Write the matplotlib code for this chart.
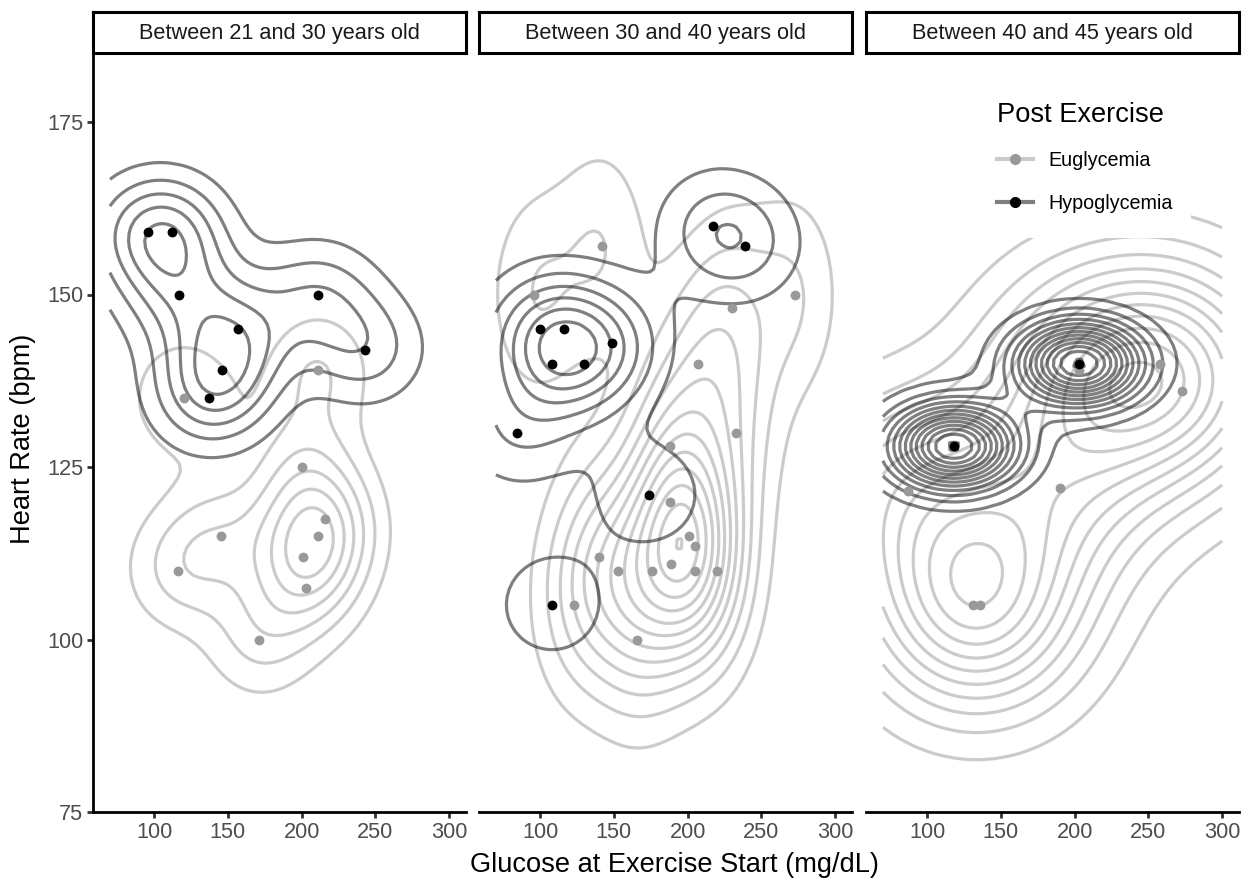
import numpy as np
import matplotlib.pyplot as plt
from matplotlib.lines import Line2D
from matplotlib.patches import Rectangle

plt.rcParams['font.family'] = ['Liberation Sans', 'DejaVu Sans']

# facet labels
panels = ['Between 21 and 30 years old', 'Between 30 and 40 years old', 'Between 40 and 45 years old']
groups = ['Euglycemia', 'Hypoglycemia']

# glucose at exercise start (x) and heart rate (y)
eu_x = [
    [120, 211, 200, 216, 211, 201, 203, 145, 116, 171],
    [142, 96, 230, 273, 207, 233, 188, 188, 201, 205, 140, 153, 176, 189, 205, 220, 123, 166],
    [203, 258, 273, 190, 87, 131, 136],
]
eu_y = [
    [135, 139, 125, 117.5, 115, 112, 107.5, 115, 110, 100],
    [157, 150, 148, 150, 140, 130, 128, 120, 115, 113.5, 112, 110, 110, 111, 110, 110, 105, 100],
    [139, 140, 136, 122, 121.5, 105, 105],
]
hypo_x = [
    [96, 112, 117, 157, 146, 137, 211, 243],
    [100, 116, 149, 108, 130, 84, 217, 239, 174, 108],
    [118, 203],
]
hypo_y = [
    [159, 159, 150, 145, 139, 135, 150, 142],
    [145, 145, 143, 140, 140, 130, 160, 157, 121, 105],
    [128, 140],
]

colors = {'Euglycemia': '#999999', 'Hypoglycemia': '#000000'}

# density grid spans the x/y scale limits
xlim_grid = (70, 300)
ylim_grid = (80, 180)


def bandwidth_nrd(v):
    v = np.asarray(v, float)
    q1, q3 = np.percentile(v, [25, 75])
    return 4 * 1.06 * min(np.std(v, ddof=1), (q3 - q1) / 1.34) * len(v) ** (-0.2)


def kde2d(x, y, n=100):
    x = np.asarray(x, float)
    y = np.asarray(y, float)
    hx = bandwidth_nrd(x) / 4
    hy = bandwidth_nrd(y) / 4
    gx = np.linspace(*xlim_grid, n)
    gy = np.linspace(*ylim_grid, n)
    kx = np.exp(-0.5 * ((gx[:, None] - x[None, :]) / hx) ** 2) / np.sqrt(2 * np.pi)
    ky = np.exp(-0.5 * ((gy[:, None] - y[None, :]) / hy) ** 2) / np.sqrt(2 * np.pi)
    z = ky @ kx.T / (len(x) * hx * hy)
    return gx, gy, z


def pretty(lo, hi, n=10):
    # same rule as R's pretty()
    cell = (hi - lo) / n
    U = 10 ** np.floor(np.log10(cell))
    unit = U
    if 2 * U - cell < 1.5 * (cell - unit):
        unit = 2 * U
        if 5 * U - cell < 2.75 * (cell - unit):
            unit = 5 * U
            if 10 * U - cell < 1.5 * (cell - unit):
                unit = 10 * U
    ns = np.floor(lo / unit + 1e-7)
    nu = np.ceil(hi / unit - 1e-7)
    return np.arange(ns, nu + 1) * unit


fig = plt.figure(figsize=(12.43, 8.81), dpi=100)
W, H = 1243, 881
lefts = [93, 479, 866]
pw = 373
top, bottom = 53, 812

for i, name in enumerate(panels):
    ax = fig.add_axes([lefts[i] / W, 1 - bottom / H, pw / W, (bottom - top) / H])
    for g, xs, ys in [('Euglycemia', eu_x[i], eu_y[i]), ('Hypoglycemia', hypo_x[i], hypo_y[i])]:
        gx, gy, z = kde2d(xs, ys)
        levels = pretty(z.min(), z.max())
        levels = levels[(levels > z.min()) & (levels < z.max())]
        ax.contour(gx, gy, z, levels=levels, colors=colors[g], alpha=0.5,
                   linewidths=2.3, zorder=2)
    ax.scatter(eu_x[i], eu_y[i], s=50, color=colors['Euglycemia'], zorder=4, linewidths=0)
    ax.scatter(hypo_x[i], hypo_y[i], s=50, color=colors['Hypoglycemia'], zorder=5, linewidths=0)

    ax.set_xlim(58.5, 311.5)
    ax.set_ylim(75, 185)
    ax.set_xticks([100, 150, 200, 250, 300])
    ax.set_yticks([75, 100, 125, 150, 175])
    for s in ['top', 'right']:
        ax.spines[s].set_visible(False)
    ax.spines['bottom'].set_linewidth(2)
    ax.spines['left'].set_linewidth(2)
    ax.tick_params(axis='both', length=4, width=2, color='#333333', labelcolor='#4d4d4d',
                   labelsize=15.7, pad=3)
    if i > 0:
        ax.spines['left'].set_visible(False)
        ax.tick_params(axis='y', left=False, labelleft=False)

    # facet strip
    sax = fig.add_axes([lefts[i] / W, 1 - 53 / H, pw / W, 41 / H])
    sax.set_xticks([])
    sax.set_yticks([])
    for s in sax.spines.values():
        s.set_linewidth(2.2)
    sax.text(0.5, 0.48, name, ha='center', va='center', fontsize=15.7, color='#1a1a1a',
             transform=sax.transAxes)

    if i == 2:
        # legend background
        ax.add_patch(Rectangle((0, 0.756), 0.872, 0.244, transform=ax.transAxes,
                               facecolor='white', edgecolor='none', zorder=6))
        handles = [
            (Line2D([], [], color=colors['Euglycemia'], alpha=0.5, lw=3),
             Line2D([], [], color=colors['Euglycemia'], marker='o', ls='none', ms=7)),
            (Line2D([], [], color=colors['Hypoglycemia'], alpha=0.5, lw=3),
             Line2D([], [], color=colors['Hypoglycemia'], marker='o', ls='none', ms=7)),
        ]
        leg = ax.legend(handles, groups, title='Post Exercise', loc='upper left',
                        bbox_to_anchor=(0.35, 0.936), frameon=False, fontsize=14.2,
                        title_fontsize=19.6, alignment='left', handlelength=1.85,
                        labelspacing=1.2, handletextpad=0.8, borderpad=0, borderaxespad=0)
        leg.set_zorder(7)

fig.text(674 / W, 1 - 865 / H, 'Glucose at Exercise Start (mg/dL)', ha='center', va='center',
         fontsize=19.6)
fig.text(23 / W, 1 - 439 / H, 'Heart Rate (bpm)', ha='center', va='center', rotation=90,
         fontsize=19.6)

fig.savefig('out.png', dpi=100)
